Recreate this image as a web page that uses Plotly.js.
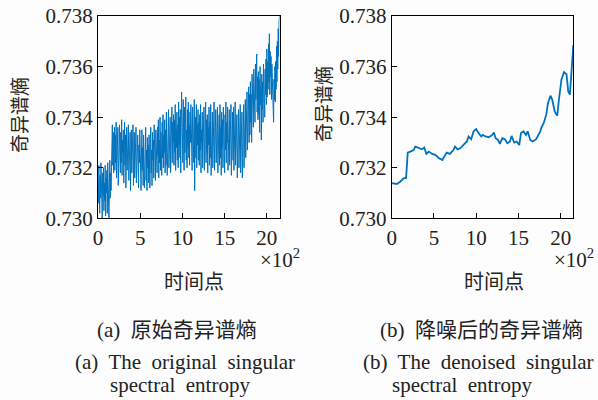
<!DOCTYPE html>
<html>
<head>
<meta charset="utf-8">
<script src="https://cdn.plot.ly/plotly-3.0.1.min.js"></script>
<style>
html,body{margin:0;padding:0;background:#fdfdfd;}
#chart{width:598px;height:400px;}
</style>
</head>
<body>
<div id="chart"></div>
<script>
// ---- Data ----
// (a) original singular spectral entropy, sampled every 5 time points (0 .. 2150)
const originalEntropy = [
  0.7315, 0.7306, 0.7321, 0.7310, 0.7302, 0.7317, 0.7308, 0.7322, 0.7304, 0.7313, 0.7300, 0.7318, 0.7309, 0.7320, 0.7303, 0.7314, 0.7307, 0.7321, 0.7301, 0.7316,
  0.7310, 0.7319, 0.7302, 0.7322, 0.7306, 0.7316, 0.7300, 0.7314, 0.7323, 0.7308, 0.7318, 0.7311, 0.7320, 0.7326, 0.7337, 0.7321, 0.7334, 0.7318, 0.7331, 0.7336,
  0.7319, 0.7333, 0.7322, 0.7338, 0.7316, 0.7330, 0.7324, 0.7336, 0.7313, 0.7329, 0.7320, 0.7337, 0.7325, 0.7318, 0.7334, 0.7322, 0.7339, 0.7317, 0.7331, 0.7326,
  0.7335, 0.7314, 0.7329, 0.7338, 0.7321, 0.7333, 0.7312, 0.7327, 0.7336, 0.7319, 0.7331, 0.7323, 0.7337, 0.7315, 0.7330, 0.7320, 0.7334, 0.7311, 0.7326, 0.7335,
  0.7318, 0.7332, 0.7322, 0.7337, 0.7313, 0.7328, 0.7334, 0.7316, 0.7330, 0.7321, 0.7336, 0.7314, 0.7327, 0.7319, 0.7333, 0.7324, 0.7312, 0.7329, 0.7322, 0.7335,
  0.7317, 0.7331, 0.7311, 0.7326, 0.7335, 0.7319, 0.7328, 0.7313, 0.7333, 0.7321, 0.7312, 0.7330, 0.7324, 0.7336, 0.7315, 0.7327, 0.7311, 0.7332, 0.7320, 0.7329,
  0.7314, 0.7333, 0.7322, 0.7312, 0.7329, 0.7336, 0.7318, 0.7327, 0.7313, 0.7334, 0.7323, 0.7331, 0.7316, 0.7337, 0.7320, 0.7328, 0.7315, 0.7335, 0.7324, 0.7332,
  0.7318, 0.7336, 0.7325, 0.7339, 0.7316, 0.7331, 0.7322, 0.7340, 0.7319, 0.7334, 0.7327, 0.7317, 0.7338, 0.7324, 0.7341, 0.7320, 0.7333, 0.7326, 0.7339, 0.7318,
  0.7335, 0.7321, 0.7342, 0.7326, 0.7317, 0.7337, 0.7329, 0.7343, 0.7320, 0.7334, 0.7324, 0.7340, 0.7318, 0.7336, 0.7327, 0.7344, 0.7322, 0.7338, 0.7330, 0.7341,
  0.7321, 0.7339, 0.7326, 0.7345, 0.7319, 0.7335, 0.7328, 0.7342, 0.7323, 0.7337, 0.7320, 0.7346, 0.7329, 0.7340, 0.7324, 0.7343, 0.7318, 0.7336, 0.7350, 0.7327,
  0.7341, 0.7322, 0.7347, 0.7330, 0.7319, 0.7344, 0.7326, 0.7338, 0.7348, 0.7323, 0.7335, 0.7320, 0.7343, 0.7328, 0.7346, 0.7324, 0.7337, 0.7321, 0.7342, 0.7330,
  0.7345, 0.7325, 0.7339, 0.7319, 0.7344, 0.7328, 0.7336, 0.7322, 0.7347, 0.7311, 0.7333, 0.7340, 0.7324, 0.7345, 0.7320, 0.7337, 0.7329, 0.7343, 0.7323, 0.7338,
  0.7321, 0.7341, 0.7327, 0.7345, 0.7318, 0.7335, 0.7330, 0.7342, 0.7320, 0.7337, 0.7325, 0.7344, 0.7319, 0.7333, 0.7328, 0.7346, 0.7322, 0.7339, 0.7326, 0.7341,
  0.7318, 0.7336, 0.7329, 0.7344, 0.7321, 0.7338, 0.7324, 0.7345, 0.7317, 0.7333, 0.7327, 0.7342, 0.7320, 0.7339, 0.7325, 0.7346, 0.7319, 0.7335, 0.7330, 0.7343,
  0.7322, 0.7340, 0.7326, 0.7344, 0.7318, 0.7337, 0.7329, 0.7341, 0.7321, 0.7345, 0.7324, 0.7336, 0.7317, 0.7342, 0.7328, 0.7339, 0.7320, 0.7344, 0.7325, 0.7334,
  0.7318, 0.7341, 0.7327, 0.7346, 0.7322, 0.7338, 0.7330, 0.7344, 0.7319, 0.7336, 0.7325, 0.7343, 0.7321, 0.7340, 0.7328, 0.7345, 0.7317, 0.7337, 0.7326, 0.7342,
  0.7323, 0.7344, 0.7319, 0.7338, 0.7329, 0.7346, 0.7321, 0.7335, 0.7327, 0.7341, 0.7316, 0.7337, 0.7324, 0.7343, 0.7320, 0.7339, 0.7328, 0.7345, 0.7318, 0.7336,
  0.7325, 0.7342, 0.7316, 0.7338, 0.7329, 0.7345, 0.7320, 0.7340, 0.7331, 0.7347, 0.7324, 0.7343, 0.7334, 0.7350, 0.7327, 0.7346, 0.7336, 0.7352, 0.7330, 0.7349,
  0.7333, 0.7354, 0.7338, 0.7349, 0.7330, 0.7357, 0.7341, 0.7352, 0.7336, 0.7359, 0.7344, 0.7355, 0.7338, 0.7361, 0.7347, 0.7358, 0.7365, 0.7342, 0.7356, 0.7339,
  0.7358, 0.7341, 0.7355, 0.7334, 0.7360, 0.7345, 0.7352, 0.7331, 0.7357, 0.7343, 0.7354, 0.7338, 0.7361, 0.7347, 0.7356, 0.7340, 0.7359, 0.7349, 0.7363, 0.7345,
  0.7367, 0.7348, 0.7362, 0.7351, 0.7369, 0.7354, 0.7373, 0.7349, 0.7366, 0.7356, 0.7364, 0.7347, 0.7361, 0.7352, 0.7358, 0.7343, 0.7338, 0.7355, 0.7347, 0.7360,
  0.7346, 0.7362, 0.7351, 0.7368, 0.7354, 0.7370, 0.7359, 0.7375, 0.7364, 0.7378, 0.7380
];
const sampleStep = 5; // time points between samples

// (b) denoised singular spectral entropy (x in units of 10^2 time points)
const denoisedX = [0, 0.6, 1.0, 1.4, 1.7, 1.9, 2.2, 2.6, 2.8, 3.2, 3.6, 3.85, 4.1, 4.4, 4.8,
  5.2, 5.6, 6.0, 6.2, 6.5, 6.9, 7.3, 7.5, 7.8, 8.1, 8.5, 8.9, 9.1, 9.4, 9.7, 10.0,
  10.3, 10.6, 10.8, 11.1, 11.5, 11.9, 12.1, 12.3, 12.6, 12.8, 13.1, 13.4, 13.7, 14.0,
  14.2, 14.5, 14.8, 15.1, 15.3, 15.6, 15.9, 16.1, 16.4, 16.7, 17.1, 17.3, 17.6, 17.7,
  18.0, 18.3, 18.5, 18.8, 19.0, 19.3, 19.6, 19.8, 20.1, 20.4, 20.7, 20.9, 21.1, 21.3, 21.5];
const denoisedY = [0.73139, 0.73136, 0.73145, 0.73158, 0.7316, 0.7326, 0.73264, 0.7327, 0.73284,
  0.73277, 0.73273, 0.7328, 0.73255, 0.73264, 0.73255, 0.7325, 0.73238, 0.73231, 0.73244,
  0.7326, 0.73255, 0.7327, 0.73284, 0.73273, 0.73277, 0.7329, 0.73304, 0.73324, 0.73313,
  0.73344, 0.73353, 0.73337, 0.73324, 0.7333, 0.73324, 0.73321, 0.7333, 0.7334, 0.73317,
  0.7331, 0.73295, 0.73317, 0.73313, 0.73297, 0.73304, 0.73326, 0.733, 0.73304, 0.7329,
  0.73337, 0.73344, 0.7333, 0.73344, 0.7331, 0.73304, 0.73313, 0.73324, 0.73344, 0.73357,
  0.73377, 0.7341, 0.73456, 0.73485, 0.7347, 0.73423, 0.73406, 0.7347, 0.73549, 0.73578,
  0.73569, 0.73502, 0.73489, 0.73588, 0.73685];

const xTicks = [0, 5, 10, 15, 20];
const yTicks = [0.730, 0.732, 0.734, 0.736, 0.738];
const yLabel = '奇异谱熵';
const xLabel = '时间点';
const xScale = '×10<sup>2</sup>';
const captionsCN = ['(a)  原始奇异谱熵', '(b)  降噪后的奇异谱熵'];
const captionsEN1 = ['(a)  The  original  singular', '(b)  The  denoised  singular'];
const captionsEN2 = ['spectral  entropy', 'spectral  entropy'];

// ---- Plot ----
const originalX = originalEntropy.map((_, i) => i * sampleStep / 100);
const blue = '#0072BD';
const serif = "'Liberation Serif', 'Times New Roman', serif";
const cjk = "'Noto Sans CJK SC', sans-serif";
const mixed = "'Liberation Serif', 'Noto Sans CJK SC', serif";

const traces = [
  {x: originalX, y: originalEntropy, type: 'scatter', mode: 'lines',
   line: {color: blue, width: 1}, xaxis: 'x', yaxis: 'y', hoverinfo: 'skip'},
  {x: denoisedX, y: denoisedY, type: 'scatter', mode: 'lines',
   line: {color: blue, width: 1.8}, xaxis: 'x2', yaxis: 'y2', hoverinfo: 'skip'}
];

function xAxis(domain, anchor) {
  return {domain: domain, anchor: anchor, range: [0, 21.5], tickvals: xTicks,
    ticks: 'inside', ticklen: 5, tickcolor: '#000', showline: true, mirror: true,
    linecolor: '#000', linewidth: 1, showgrid: false, zeroline: false,
    tickfont: {family: serif, size: 21, color: '#222'}};
}
function yAxis(anchor) {
  return {domain: [0.454, 0.96], anchor: anchor, range: [0.730, 0.738], tickvals: yTicks,
    tickformat: '.3f', ticks: 'inside', ticklen: 5, tickcolor: '#000', showline: true,
    mirror: true, linecolor: '#000', linewidth: 1, showgrid: false, zeroline: false,
    tickfont: {family: serif, size: 21, color: '#222'}};
}

const ann = [];
function addText(text, x, y, font, size, angle, anchor) {
  ann.push({text: text, x: x / 598, y: 1 - y / 400, xref: 'paper', yref: 'paper',
    xanchor: anchor || 'center', yanchor: 'middle', showarrow: false, textangle: angle || 0,
    font: {family: font, size: size, color: '#222'}});
}
addText(yLabel, 19, 115, cjk, 19, -90);
addText(yLabel, 322, 104, cjk, 19, -90);
addText(xLabel, 194, 280, cjk, 20);
addText(xLabel, 494, 280, cjk, 20);
addText(xScale, 258, 258, serif, 21, 0, 'left');
addText(xScale, 552, 258, serif, 21, 0, 'left');
addText(captionsCN[0], 176.5, 330, mixed, 21);
addText(captionsCN[1], 481.5, 330, mixed, 21);
addText(captionsEN1[0], 184.5, 362, serif, 21);
addText(captionsEN1[1], 478.5, 362, serif, 21);
addText(captionsEN2[0], 180, 385, serif, 21);
addText(captionsEN2[1], 462, 385, serif, 21);

const layout = {
  width: 598, height: 400, margin: {l: 0, r: 0, t: 0, b: 0},
  paper_bgcolor: '#fdfdfd', plot_bgcolor: '#fdfdfd', showlegend: false,
  xaxis: xAxis([98 / 598, 279.5 / 598], 'y'),
  yaxis: yAxis('x'),
  xaxis2: xAxis([391.7 / 598, 573.3 / 598], 'y2'),
  yaxis2: yAxis('x2'),
  annotations: ann
};
Plotly.newPlot('chart', traces, layout, {staticPlot: true, displayModeBar: false});
</script>
</body>
</html>
